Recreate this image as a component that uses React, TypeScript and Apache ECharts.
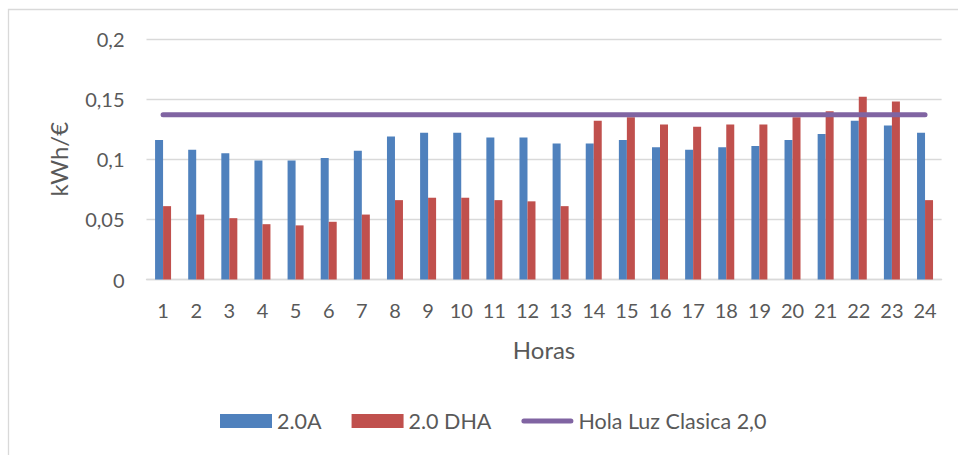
import React, { useEffect, useRef } from "react";
import * as echarts from "echarts";

const hours = ["1","2","3","4","5","6","7","8","9","10","11","12","13","14","15","16","17","18","19","20","21","22","23","24"];
const tarifa20A = [0.116, 0.108, 0.105, 0.099, 0.099, 0.101, 0.107, 0.119, 0.122, 0.122, 0.118, 0.118, 0.113, 0.113, 0.116, 0.110, 0.108, 0.110, 0.111, 0.116, 0.121, 0.132, 0.128, 0.122];
const tarifa20DHA = [0.061, 0.054, 0.051, 0.046, 0.045, 0.048, 0.054, 0.066, 0.068, 0.068, 0.066, 0.065, 0.061, 0.132, 0.135, 0.129, 0.127, 0.129, 0.129, 0.135, 0.140, 0.152, 0.148, 0.066];
const holaLuz = [0.137, 0.137, 0.137, 0.137, 0.137, 0.137, 0.137, 0.137, 0.137, 0.137, 0.137, 0.137, 0.137, 0.137, 0.137, 0.137, 0.137, 0.137, 0.137, 0.137, 0.137, 0.137, 0.137, 0.137];
const seriesNames = ["2.0A", "2.0 DHA", "Hola Luz Clasica 2,0"];

const FONT = "Lato";
const TXT = "#595959";

export default function App() {
  const ref = useRef<HTMLDivElement>(null);
  useEffect(() => {
    if (!ref.current) return;
    const chart = echarts.init(ref.current, undefined, { renderer: "svg" });
    chart.setOption({
      animation: false,
      textStyle: { fontFamily: FONT },
      graphic: [
        {
          type: "rect",
          shape: { x: 8.5, y: 9.5, width: 960, height: 460 },
          style: { fill: "none", stroke: "#d9d9d9", lineWidth: 1.3 },
          silent: true,
        },
      ],
      grid: { left: 146.5, right: 16.4, top: 39, bottom: 175.5, containLabel: false },
      legend: {
        left: 220,
        top: 410,
        padding: 0,
        itemWidth: 52,
        itemHeight: 14,
        itemGap: 30,
        textStyle: { fontFamily: FONT, fontSize: 21.5, color: TXT },
        data: [
          { name: seriesNames[0], icon: "rect" },
          { name: seriesNames[1], icon: "rect" },
          {
            name: seriesNames[2],
            icon: "path://M2.5,0 H49.5 A2.5,2.5 0 0 1 49.5,5 H2.5 A2.5,2.5 0 0 1 2.5,0 Z",
          },
        ],
      },
      xAxis: {
        type: "category",
        data: hours,
        name: "Horas",
        nameLocation: "middle",
        nameGap: 58,
        nameTextStyle: { fontFamily: FONT, fontSize: 24, color: TXT },
        axisLine: { show: true, lineStyle: { color: "#d9d9d9", width: 1.3 } },
        axisTick: { show: false },
        axisLabel: { margin: 20, fontFamily: FONT, fontSize: 20, color: TXT },
      },
      yAxis: {
        type: "value",
        min: 0,
        max: 0.2,
        interval: 0.05,
        name: "kWh/€",
        nameLocation: "middle",
        nameRotate: 90,
        nameGap: 76,
        nameTextStyle: { fontFamily: FONT, fontSize: 24, color: TXT },
        axisLine: { show: false },
        axisTick: { show: false },
        splitLine: { lineStyle: { color: "#d9d9d9", width: 1.3 } },
        axisLabel: {
          margin: 22,
          fontFamily: FONT,
          fontSize: 20,
          color: TXT,
          formatter: (v: number) => String(Math.round(v * 100) / 100).replace(".", ","),
        },
      },
      series: [
        {
          name: seriesNames[0],
          type: "bar",
          data: tarifa20A,
          barWidth: 8,
          barGap: "0%",
          itemStyle: { color: "#4F81BD" },
        },
        {
          name: seriesNames[1],
          type: "bar",
          data: tarifa20DHA,
          barWidth: 8,
          barGap: "0%",
          itemStyle: { color: "#C0504D" },
        },
        {
          name: seriesNames[2],
          type: "line",
          data: holaLuz,
          symbol: "none",
          z: 5,
          itemStyle: { color: "#8064A2" },
          lineStyle: { color: "#8064A2", width: 5, cap: "round" },
        },
      ],
    });
    return () => chart.dispose();
  }, []);
  return (
    <div
      ref={ref}
      style={{ position: "fixed", left: 0, top: 0, width: 958, height: 455, background: "#fff" }}
    />
  );
}
